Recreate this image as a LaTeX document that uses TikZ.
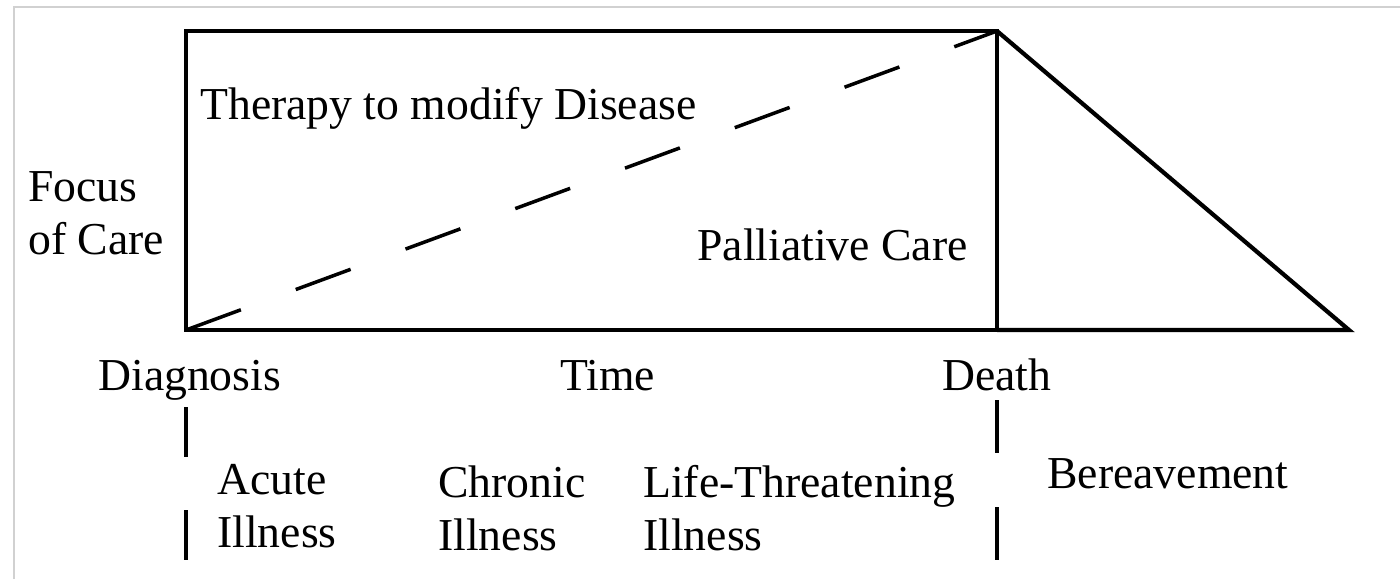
\documentclass[tikz,border=0pt]{standalone}
\usepackage{fontspec}
\setmainfont{Liberation Serif}
\tikzset{
  lbl/.style = {inner sep = 0pt, anchor = base west, align = left, font = \fontsize{26}{30}\selectfont},
  tick/.style = {line width = 2pt},
  frame/.style = {line width = 2.4pt, line join = miter}
}
\begin{document}
\begin{tikzpicture}[x = 0.02cm, y = -0.02cm]
\useasboundingbox (0,0) rectangle (1400,579);
\draw[black!18, line width = 0.8pt] (14,579) -- (14,7) -- (1400,7);

\coordinate (diag) at (186,330);
\coordinate (death) at (997,330);
\coordinate (topL) at (186,31);
\coordinate (topR) at (997,31);
\coordinate (endB) at (1349,330);

\draw[frame] (diag) -- (topL) -- (topR) -- (death) -- cycle;
\draw[frame] (topR) -- (endB) -- (death);
\draw[line width = 2pt, dash pattern = on 1.17cm off 1.17cm] (diag) -- (topR);

\node[lbl] (therapy) at (200,119) {Therapy to modify Disease};
\node[lbl] (focus) at (28,254) {Focus\\of Care};
\node[lbl] (palliative) at (697,260) {Palliative Care};

\node[lbl] (diagnosis) at (98,390) {Diagnosis};
\node[lbl] (time) at (560,390) {Time};
\node[lbl] (deathlbl) at (942,390) {Death};

\foreach \x/\a/\b in {186/407/457, 186/510/560, 997/400/453, 997/507/560}
   \draw[tick] (\x,\a) -- (\x,\b);

\node[lbl] (acute) at (217,547) {Acute\\Illness};
\node[lbl] (chronic) at (438,550) {Chronic\\Illness};
\node[lbl] (life) at (643,550) {Life-Threatening\\Illness};
\node[lbl] (bereave) at (1047,488) {Bereavement};
\end{tikzpicture}
\end{document}
